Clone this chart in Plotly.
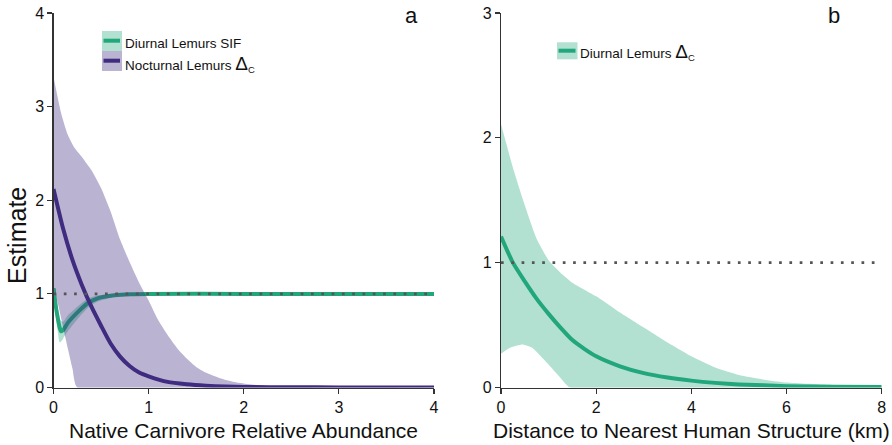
import plotly.graph_objects as go

# ---------------- data ----------------
# Panel a: Diurnal Lemurs SIF vs native carnivore relative abundance
sif_x = [0, 0.03, 0.065, 0.08, 0.1, 0.15, 0.26, 0.36, 0.47, 0.64, 0.81, 1.0, 2.0, 3.0, 4.0]
sif_y = [1.06, 0.83, 0.64, 0.60, 0.61, 0.69, 0.81, 0.90, 0.955, 0.985, 0.997, 1.0, 1.0, 1.0, 1.0]
sif_lo = [1.0, 0.72, 0.48, 0.49, 0.52, 0.60, 0.74, 0.85, 0.92, 0.97, 0.99, 0.994, 0.995, 0.995, 0.995]
sif_hi = [1.12, 0.93, 0.75, 0.71, 0.70, 0.77, 0.87, 0.95, 0.985, 1.0, 1.003, 1.005, 1.005, 1.005, 1.005]

# Panel a: Nocturnal Lemurs Delta_C
noc_x = [0, 0.1, 0.2, 0.3, 0.4, 0.5, 0.6, 0.7, 0.8, 0.9, 1.0, 1.2, 1.4, 1.6, 1.8, 2.0, 2.5, 3.0, 4.0]
noc_y = [2.12, 1.70, 1.36, 1.09, 0.86, 0.66, 0.47, 0.33, 0.23, 0.16, 0.12, 0.06, 0.035, 0.02, 0.01, 0.006, 0.002, 0.001, 0.0]
noc_hi_x = [0, 0.08, 0.15, 0.22, 0.3, 0.4, 0.5, 0.6, 0.7, 0.8, 0.9, 1.0, 1.1, 1.2, 1.3, 1.4, 1.5, 1.6, 1.75, 1.9, 2.1, 2.3, 2.6, 3.0, 4.0]
noc_hi_y = [3.32, 2.93, 2.70, 2.56, 2.46, 2.32, 2.13, 1.88, 1.58, 1.34, 1.12, 0.93, 0.72, 0.56, 0.42, 0.31, 0.22, 0.16, 0.10, 0.06, 0.03, 0.015, 0.005, 0.002, 0.0]
noc_lo_x = [0, 0.05, 0.1, 0.15, 0.2, 0.25, 4.0]
noc_lo_y = [1.1, 0.88, 0.65, 0.42, 0.2, 0.0, 0.0]

# Panel b: Diurnal Lemurs Delta_C vs distance to nearest human structure
dist_x = [0, 0.25, 0.5, 0.75, 1.0, 1.25, 1.5, 1.75, 2.0, 2.5, 3.0, 3.5, 4.0, 4.5, 5.0, 6.0, 7.0, 8.0]
dist_y = [1.21, 1.0, 0.85, 0.71, 0.59, 0.48, 0.38, 0.31, 0.25, 0.17, 0.115, 0.08, 0.055, 0.037, 0.025, 0.011, 0.007, 0.005]
dist_hi_x = [0, 0.25, 0.5, 0.75, 1.0, 1.25, 1.5, 2.0, 2.5, 3.0, 3.5, 4.0, 4.5, 5.0, 5.5, 6.0, 7.0, 8.0]
dist_hi_y = [2.11, 1.76, 1.46, 1.19, 1.02, 0.92, 0.84, 0.73, 0.60, 0.48, 0.36, 0.25, 0.16, 0.10, 0.065, 0.04, 0.02, 0.012]
dist_lo_x = [0, 0.2, 0.45, 0.65, 0.85, 1.0, 1.15, 1.3, 1.45, 8.0]
dist_lo_y = [0.27, 0.32, 0.345, 0.32, 0.245, 0.185, 0.12, 0.055, 0.0, 0.0]

ref_value = 1.0
a_xrange = [0, 4]
a_yrange = [0, 4]
b_xrange = [0, 8]
b_yrange = [0, 3]
a_xticks = [0, 1, 2, 3, 4]
a_yticks = [0, 1, 2, 3, 4]
b_xticks = [0, 2, 4, 6, 8]
b_yticks = [0, 1, 2, 3]

# ---------------- styles ----------------
W, H = 892, 445
GREEN = "#22a67b"
GREEN_FILL = "rgba(34,166,123,0.35)"
PURPLE = "#3f2b7f"
PURPLE_FILL = "rgba(63,43,127,0.36)"
DOT = "#555555"
FONT = "Liberation Sans, Arial, Helvetica, sans-serif"


def pxx(x):
    return x / W


def pxy(y):
    return 1 - y / H


def band(xs_hi, ys_hi, xs_lo, ys_lo):
    return list(xs_hi) + list(xs_lo)[::-1], list(ys_hi) + list(ys_lo)[::-1]


fig = go.Figure()
nofill = dict(width=0, color="rgba(0,0,0,0)", shape="spline", smoothing=0.5)

# panel a
bx, by = band(sif_x, sif_hi, sif_x, sif_lo)
fig.add_trace(go.Scatter(x=bx, y=by, fill="toself", fillcolor=GREEN_FILL, line=nofill,
                         mode="lines", xaxis="x", yaxis="y", hoverinfo="skip"))
fig.add_trace(go.Scatter(x=sif_x, y=sif_y, mode="lines", line=dict(color=GREEN, width=4, shape="spline", smoothing=0.6),
                         xaxis="x", yaxis="y"))
bx, by = band(noc_hi_x, noc_hi_y, noc_lo_x, noc_lo_y)
fig.add_trace(go.Scatter(x=bx, y=by, fill="toself", fillcolor=PURPLE_FILL, line=nofill,
                         mode="lines", xaxis="x", yaxis="y", hoverinfo="skip"))
fig.add_trace(go.Scatter(x=noc_x, y=noc_y, mode="lines", line=dict(color=PURPLE, width=4, shape="spline", smoothing=0.6),
                         xaxis="x", yaxis="y"))
fig.add_trace(go.Scatter(x=a_xrange, y=[ref_value, ref_value], mode="lines",
                         line=dict(color=DOT, width=2.7, dash="2.7px,7.6px"), xaxis="x", yaxis="y"))

# panel b
bx, by = band(dist_hi_x, dist_hi_y, dist_lo_x, dist_lo_y)
fig.add_trace(go.Scatter(x=bx, y=by, fill="toself", fillcolor=GREEN_FILL, line=nofill,
                         mode="lines", xaxis="x2", yaxis="y2", hoverinfo="skip"))
fig.add_trace(go.Scatter(x=dist_x, y=dist_y, mode="lines", line=dict(color=GREEN, width=4, shape="spline", smoothing=0.6),
                         xaxis="x2", yaxis="y2"))
fig.add_trace(go.Scatter(x=b_xrange, y=[ref_value, ref_value], mode="lines",
                         line=dict(color=DOT, width=2.7, dash="2.7px,7.6px"), xaxis="x2", yaxis="y2"))

axis_common = dict(showgrid=False, zeroline=False, showline=True, linecolor="#333333", linewidth=1.2,
                   ticks="outside", ticklen=5, tickwidth=1.2, tickcolor="#333333", automargin=False,
                   tickfont=dict(family=FONT, size=16, color="#111111"), fixedrange=True)

ydom = [(H - 387.5) / H, (H - 13) / H]
fig.update_layout(
    width=W, height=H,
    margin=dict(l=0, r=0, t=0, b=0, pad=0),
    paper_bgcolor="white", plot_bgcolor="white",
    showlegend=False,
    font=dict(family=FONT, color="#111111"),
    xaxis=dict(domain=[53.5 / W, 434 / W], range=a_xrange, tickvals=a_xticks, anchor="y", **axis_common),
    yaxis=dict(domain=ydom, range=a_yrange, tickvals=a_yticks, anchor="x", **axis_common),
    xaxis2=dict(domain=[501 / W, 881.7 / W], range=b_xrange, tickvals=b_xticks, anchor="y2", **axis_common),
    yaxis2=dict(domain=ydom, range=b_yrange, tickvals=b_yticks, anchor="x2", **axis_common),
)

shapes = []
annotations = []


def rect(x0, y0, x1, y1, color):
    shapes.append(dict(type="rect", xref="paper", yref="paper", x0=pxx(x0), x1=pxx(x1),
                       y0=pxy(y1), y1=pxy(y0), fillcolor=color, line=dict(width=0), layer="above"))


def hline(x0, x1, y, color):
    shapes.append(dict(type="line", xref="paper", yref="paper", x0=pxx(x0), x1=pxx(x1),
                       y0=pxy(y), y1=pxy(y), line=dict(color=color, width=4), layer="above"))


def text(x, y, s, size, xanchor="left", angle=0):
    annotations.append(dict(x=pxx(x), y=pxy(y), xref="paper", yref="paper", text=s, showarrow=False,
                            xanchor=xanchor, yanchor="middle", textangle=angle,
                            font=dict(family=FONT, size=size, color="#111111")))


# legend a
rect(102, 31, 122, 51, GREEN_FILL)
hline(103.5, 120, 40.7, GREEN)
rect(102, 51, 122, 71, PURPLE_FILL)
hline(103.5, 120, 60.7, PURPLE)
text(122.5, 43.5, "Diurnal Lemurs SIF", 13.5)
text(122.5, 63.5, "Nocturnal Lemurs <span style='font-size:19px'>Δ</span><sub>C</sub>", 13.5)

# legend b
rect(557, 42.3, 577.5, 59.3, GREEN_FILL)
hline(558.5, 575.5, 50.7, GREEN)
text(578, 52, "Diurnal Lemurs <span style='font-size:19px'>Δ</span><sub>C</sub>", 13.5)

# panel letters
text(411, 16, "a", 22, xanchor="center")
text(834, 16, "b", 22, xanchor="center")

# axis titles
text(243.5, 430, "Native Carnivore Relative Abundance", 21, xanchor="center")
text(691, 430, "Distance to Nearest Human Structure (km)", 21, xanchor="center")
text(17, 236, "Estimate", 25, xanchor="center", angle=-90)

fig.update_layout(shapes=shapes, annotations=annotations)
fig.write_html("out.html", config={"displayModeBar": False, "staticPlot": True},
               post_script="document.body.style.margin='0px';")
